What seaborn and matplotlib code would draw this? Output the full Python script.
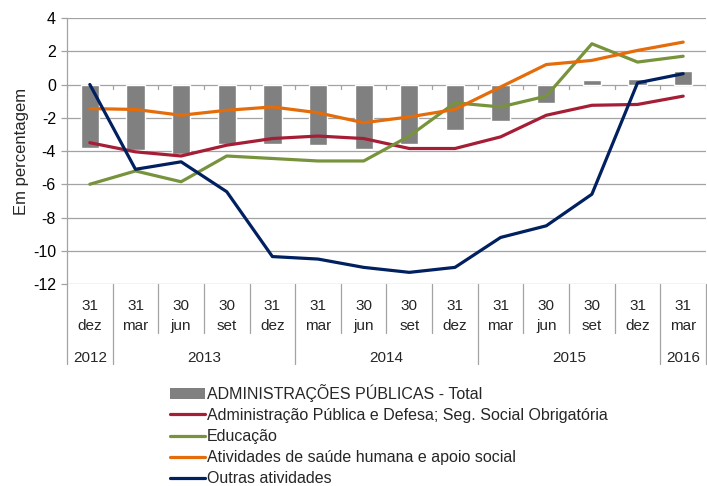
import matplotlib
matplotlib.use("Agg")
import matplotlib.pyplot as plt
from matplotlib.lines import Line2D
from matplotlib.patches import Patch
import numpy as np
import pandas as pd
import seaborn as sns

# quarter labels (day / month / year)
days = ["31", "31", "30", "30", "31", "31", "30", "30", "31", "31", "30", "30", "31", "31"]
months = ["dez", "mar", "jun", "set", "dez", "mar", "jun", "set", "dez", "mar", "jun", "set", "dez", "mar"]
years = ["2012", "2013", "2014", "2015", "2016"]
year_span = [(0, 0), (1, 4), (5, 8), (9, 12), (13, 13)]

# series, % change
total = [-3.8, -3.95, -4.2, -3.55, -3.6, -3.65, -3.85, -3.55, -2.75, -2.2, -1.1, 0.28, 0.36, 0.82]
adm_publica = [-3.5, -4.05, -4.3, -3.65, -3.25, -3.1, -3.25, -3.85, -3.85, -3.15, -1.85, -1.25, -1.2, -0.7]
educacao = [-6.0, -5.2, -5.85, -4.3, -4.45, -4.6, -4.6, -3.1, -1.1, -1.35, -0.7, 2.45, 1.35, 1.7]
saude = [-1.45, -1.5, -1.85, -1.55, -1.35, -1.7, -2.3, -1.95, -1.5, -0.15, 1.2, 1.45, 2.05, 2.55]
outras = [0.0, -5.1, -4.65, -6.45, -10.35, -10.5, -11.0, -11.3, -11.0, -9.2, -8.5, -6.6, 0.1, 0.65]

names = [
    "ADMINISTRAÇÕES PÚBLICAS - Total",
    "Administração Pública e Defesa; Seg. Social Obrigatória",
    "Educação",
    "Atividades de saúde humana e apoio social",
    "Outras atividades",
]
colors = ["#808080", "#A51E36", "#77933C", "#E46C0A", "#002060"]

sns.set_style("white")
plt.rcParams["font.family"] = ["Liberation Sans Narrow", "Liberation Sans", "DejaVu Sans"]
plt.rcParams["font.size"] = 11
plt.rcParams["axes.unicode_minus"] = False

idx = np.arange(len(days))
lines_df = pd.DataFrame({
    "x": np.tile(idx, 4),
    "y": adm_publica + educacao + saude + outras,
    "serie": np.repeat(names[1:], len(idx)),
})

fig = plt.figure(figsize=(7.07, 4.86), dpi=100)
ax = fig.add_axes([67 / 707, 1 - 284 / 486, 639 / 707, 266 / 486])

grid_c = "#A3A3A3"
for v in range(-12, 5, 2):
    ax.axhline(v, color=grid_c, lw=0.9, zorder=0)

sns.barplot(x=idx, y=total, color=colors[0], width=0.4, saturation=1,
            ax=ax, zorder=2)
sns.lineplot(data=lines_df, x="x", y="y", hue="serie", hue_order=names[1:],
             palette=colors[1:], lw=2.3, legend=False, ax=ax, zorder=3)

ax.set_xlim(-0.5, len(idx) - 0.5)
ax.set_ylim(-12, 4)
ax.set_yticks(range(-12, 5, 2))
ax.set_xticks([])
ax.set_xlabel("")
ax.set_ylabel("Em percentagem", family=["Liberation Sans", "DejaVu Sans"],
              fontsize=12, labelpad=3)
ax.tick_params(axis="y", length=4, color=grid_c, width=0.9, pad=4,
               labelsize=11.5, labelcolor="#000000", left=True)
for s in ["top", "right", "bottom"]:
    ax.spines[s].set_visible(False)
ax.spines["left"].set_color(grid_c)
ax.spines["left"].set_linewidth(0.9)

# small ticks on zero line at category boundaries
trans = ax.get_xaxis_transform()
for b in np.arange(-0.5, len(idx), 1.0):
    ax.plot([b, b], [0, -0.25], color=grid_c, lw=0.9, zorder=1)

# category table under the plot
year_edges = [-0.5] + [e + 0.5 for _, e in year_span]
for b in np.arange(-0.5, len(idx), 1.0):
    bottom = -0.302 if b in year_edges else -0.184
    ax.plot([b, b], [0, bottom], color=grid_c, lw=0.9, transform=trans, clip_on=False)
for i in idx:
    ax.text(i, -0.097, days[i], transform=trans, ha="center", va="baseline")
    ax.text(i, -0.172, months[i], transform=trans, ha="center", va="baseline")
for yr, (s, e) in zip(years, year_span):
    ax.text((s + e) / 2, -0.292, yr, transform=trans, ha="center", va="baseline")

handles = [Patch(facecolor=colors[0], edgecolor="none")]
handles += [Line2D([0], [0], color=c, lw=2.3) for c in colors[1:]]
fig.legend(handles, names, loc="upper left", bbox_to_anchor=(170 / 707, 1 - 384 / 486),
           frameon=False, borderpad=0, borderaxespad=0, handlelength=2.2,
           handletextpad=0.12, labelspacing=0.38, fontsize=11.5)

fig.savefig("out.png", dpi=100)
